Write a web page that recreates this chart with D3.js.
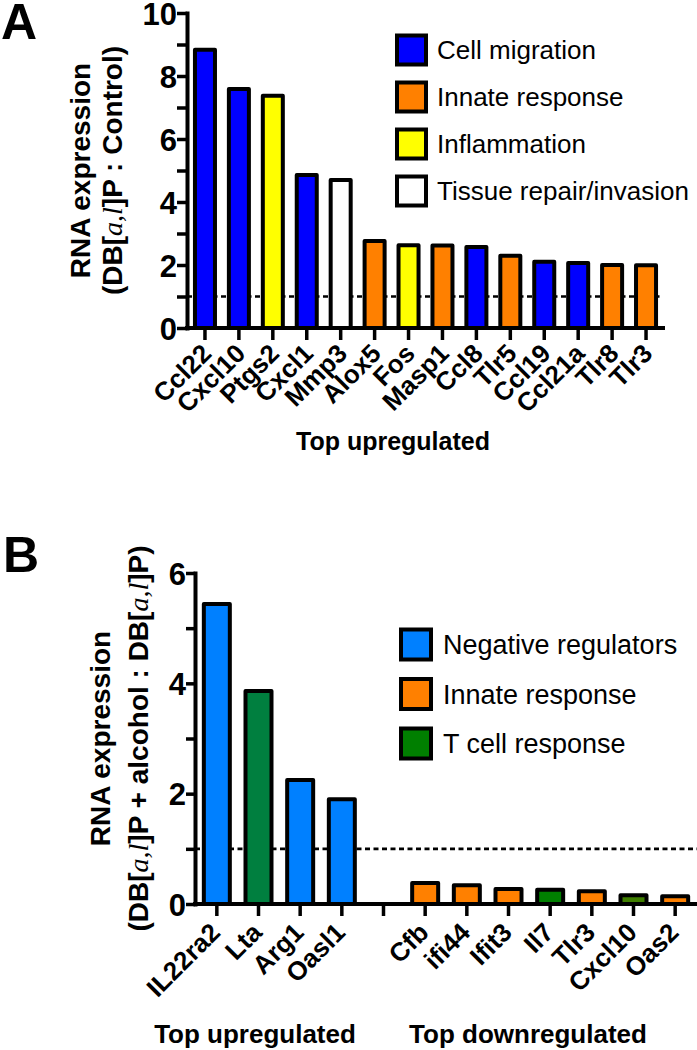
<!DOCTYPE html>
<html><head><meta charset="utf-8">
<script src="https://cdn.jsdelivr.net/npm/d3@7"></script>
<style>
body{margin:0;background:#fff}
svg{display:block}
text{font-family:"Liberation Sans",Arial,Helvetica,sans-serif;fill:#000}
</style>
</head><body>
<svg id="chart" width="697" height="1050"></svg>
<script>
// ---------- Panel A data ----------
const genesA  = ["Ccl22","Cxcl10","Ptgs2","Cxcl1","Mmp3","Alox5","Fos","Masp1","Ccl8","Tlr5","Ccl19","Ccl21a","Tlr8","Tlr3"];
const valuesA = [8.83, 7.59, 7.37, 4.86, 4.70, 2.76, 2.63, 2.62, 2.57, 2.29, 2.10, 2.06, 2.00, 1.99];
const groupsA = ["Cell migration","Cell migration","Inflammation","Cell migration","Tissue repair/invasion",
                 "Innate response","Inflammation","Innate response","Cell migration","Innate response",
                 "Cell migration","Cell migration","Innate response","Innate response"];
const legendA = ["Cell migration","Innate response","Inflammation","Tissue repair/invasion"];
const yTicksA = [0,1,2,3,4,5,6,7,8,9,10];
const yLabelsA = [0,2,4,6,8,10];
const baselineA = 1;

// ---------- Panel B data ----------
const genesB  = ["IL22ra2","Lta","Arg1","Oasl1","","Cfb","ifi44","Ifit3","Il7","Tlr3","Cxcl10","Oas2"];
const valuesB = [5.44, 3.86, 2.25, 1.90, null, 0.38, 0.34, 0.27, 0.26, 0.23, 0.16, 0.14];
const groupsB = ["Negative regulators","T cell response","Negative regulators","Negative regulators",null,
                 "Innate response","Innate response","Innate response","T cell response","Innate response",
                 "T cell response","Innate response"];
const legendB = ["Negative regulators","Innate response","T cell response"];
const yTicksB = [0,1,2,3,4,5,6];
const yLabelsB = [0,2,4,6];
const baselineB = 1;
const groupTitlesB = ["Top upregulated","Top downregulated"];

// ---------- styles ----------
const colorA = d3.scaleOrdinal().domain(legendA).range(["#0000FF","#FF8000","#FFFF00","#FFFFFF"]);
const colorB = d3.scaleOrdinal().domain(legendB).range(["#0080FF","#FF8000","#007F00"]);
const shadeB = {"Lta":"#007F3F","Cxcl10":"#3F7F00"};

const svg = d3.select("#chart");

function drawPanel(o){
  const g = svg.append("g");
  const x = d3.scaleBand().domain(o.genes.map((d,i)=>i)).range([o.x0+1, o.x1])
              .paddingInner(o.pad).paddingOuter(o.pad/2);
  const y = d3.scaleLinear().domain([0,o.ymax]).range([o.y0, o.y1]);

  // dashed reference line (behind bars)
  g.append("line").attr("x1",o.x0).attr("x2",o.dashEnd)
    .attr("y1",y(o.base)).attr("y2",y(o.base))
    .attr("stroke","#000").attr("stroke-width",2.6).attr("stroke-dasharray","5,3.5");

  // bars
  g.selectAll("rect.bar").data(o.values.map((v,i)=>({v,i})).filter(d=>d.v!=null))
    .join("rect").attr("class","bar")
    .attr("x",d=>x(d.i)).attr("width",x.bandwidth())
    .attr("y",d=>y(d.v)).attr("height",d=>y(0)-y(d.v))
    .attr("fill",d=>o.fill(d.i))
    .attr("stroke","#000").attr("stroke-width",4).attr("stroke-linejoin","round");

  // y axis
  const ya = d3.axisLeft(y).tickValues(o.yTicks).tickSize(o.yTickLen).tickSizeOuter(0).tickPadding(0)
    .tickFormat(d=>o.yLabels.includes(d)?d:"");
  const yg = g.append("g").attr("transform",`translate(${o.x0},0)`).call(ya);
  yg.select(".domain").attr("stroke-width",4).attr("stroke-linecap","square");
  yg.selectAll(".tick line").attr("stroke-width",3.5);
  yg.selectAll(".tick text").attr("font-size",31).attr("font-weight","bold")
    .style("font-family",'"Liberation Sans",Arial,sans-serif').attr("dy","0.36em");

  // x axis
  const xa = d3.axisBottom(x).tickSize(12).tickSizeOuter(0).tickFormat("");
  const xg = g.append("g").attr("transform",`translate(0,${o.y0})`).call(xa);
  xg.select(".domain").attr("stroke-width",4).attr("stroke-linecap","square")
    .attr("d",`M${o.x0},0H${o.x1}`);
  xg.selectAll(".tick line").attr("stroke-width",3.5);

  // rotated category labels
  g.selectAll("text.cat").data(o.genes.map((s,i)=>({s,i})).filter(d=>d.s!==""))
    .join("text").attr("class","cat")
    .attr("transform",d=>`translate(${x(d.i)+x.bandwidth()/2+o.labDx},${o.y0+o.labDy}) rotate(-45)`)
    .attr("text-anchor","end").attr("font-size",o.labSize).attr("font-weight","bold")
    .text(d=>d.s);

  // y title
  const cy = (o.y0+o.y1)/2;
  g.append("text").attr("transform",`translate(${o.tx1},${cy}) rotate(-90)`)
    .attr("text-anchor","middle").attr("font-size",o.tSize).attr("font-weight","bold").text("RNA expression");
  const t2 = g.append("text").attr("transform",`translate(${o.tx2},${cy}) rotate(-90)`)
    .attr("text-anchor","middle").attr("font-size",o.tSize).attr("font-weight","bold");
  o.title2.forEach(p=>{
    const ts = t2.append("tspan").text(p.t);
    if(p.it) ts.attr("font-family","'Liberation Serif','Times New Roman',serif").attr("font-style","italic").attr("font-weight","normal");
  });

  // legend
  const lg = g.append("g");
  o.legend.forEach((name,i)=>{
    const cyL = o.legY + i*o.legStep;
    lg.append("rect").attr("x",o.legX).attr("y",cyL-o.legSq/2).attr("width",o.legSq).attr("height",o.legSq)
      .attr("fill",o.legColor(name)).attr("stroke","#000").attr("stroke-width",4);
    lg.append("text").attr("x",o.legTx).attr("y",cyL).attr("dy","0.36em")
      .attr("font-size",o.legFont).text(name);
  });

  // panel letter
  g.append("text").attr("x",o.letterX).attr("y",o.letterY).attr("font-size",50).attr("font-weight","bold").text(o.letter);
  return {x,y,g};
}

// Panel A
const A = drawPanel({
  genes:genesA, values:valuesA, fill:i=>colorA(groupsA[i]),
  x0:187, x1:663, y0:328, y1:13, ymax:10, pad:0.41, base:baselineA, dashEnd:663,
  yTicks:yTicksA, yLabels:yLabelsA, yTickLen:10,
  labDx:8, labDy:27, labSize:26,
  tx1:90, tx2:122, tSize:28,
  title2:[{t:"(DB["},{t:"a,l",it:true},{t:"]P : Control)"}],
  legend:legendA, legColor:n=>colorA(n), legX:397, legY:50, legStep:47, legSq:29, legTx:437, legFont:26,
  letter:"A", letterX:1, letterY:39
});
A.g.append("text").attr("x",393).attr("y",450).attr("text-anchor","middle")
  .attr("font-size",25).attr("font-weight","bold").text("Top upregulated");

// Panel B
const B = drawPanel({
  genes:genesB, values:valuesB,
  fill:i=>shadeB[genesB[i]] || colorB(groupsB[i]),
  x0:195, x1:696, y0:904, y1:573, ymax:6, pad:0.376, base:baselineB, dashEnd:697,
  yTicks:yTicksB, yLabels:yLabelsB, yTickLen:9,
  labDx:5, labDy:30, labSize:26,
  tx1:110, tx2:148, tSize:28,
  title2:[{t:"(DB["},{t:"a,l",it:true},{t:"]P + alcohol : DB["},{t:"a,l",it:true},{t:"]P)"}],
  legend:legendB, legColor:n=>colorB(n), legX:401, legY:644.5, legStep:49.5, legSq:30, legTx:443, legFont:27,
  letter:"B", letterX:3, letterY:572
});
const titleX = [255, 528];
groupTitlesB.forEach((t,i)=>{
  B.g.append("text").attr("x",titleX[i]).attr("y",1043).attr("text-anchor","middle")
    .attr("font-size",26).attr("font-weight","bold").text(t);
});
</script>
</body></html>
